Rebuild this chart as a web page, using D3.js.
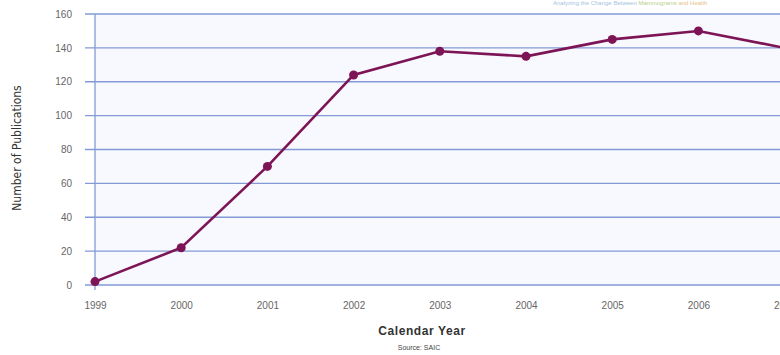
<!DOCTYPE html>
<html>
<head>
<meta charset="utf-8">
<script src="https://cdn.jsdelivr.net/npm/d3@7"></script>
<style>
	body { margin: 0; background: #fff; }
	svg { display: block; }
	.tick text { font-family: "Liberation Sans", Arial, sans-serif; font-size: 10px; fill: #666; }
	.grid line { stroke: #839ad6; stroke-width: 1.3; }
	.axisTitle { font-family: "DejaVu Sans Condensed", "Liberation Sans Narrow", Arial, sans-serif; font-stretch: condensed; font-size: 12px; fill: #333; }
	.xTitle { font-family: "Liberation Sans", Arial, sans-serif; font-size: 12px; font-weight: bold; fill: #333; letter-spacing: 0.6px; }
	.source { font-family: "Liberation Sans", Arial, sans-serif; font-size: 7px; fill: #444; }
</style>
</head>
<body>
<div id="chart"></div>
<script>
var years = ["1999","2000","2001","2002","2003","2004","2005","2006","2007"]
var publications = [2, 22, 70, 124, 138, 135, 145, 150, 140]
var yTicks = [0, 20, 40, 60, 80, 100, 120, 140, 160]

var WIDTH = 780, HEIGHT = 355
var LEFT = 95, TOP = 14, BOTTOM = 285

var svg = d3.select("#chart").append("svg")
	.attr("width", WIDTH)
	.attr("height", HEIGHT)

var x = d3.scalePoint()
	.domain(years)
	.range([LEFT, LEFT + 8 * 86.2])

var y = d3.scaleLinear()
	.domain([0, 160])
	.range([BOTTOM, TOP])

// faint plot background
svg.append("rect")
	.attr("x", LEFT)
	.attr("y", y(160))
	.attr("width", WIDTH - LEFT)
	.attr("height", y(0) - y(160))
	.attr("fill", "#f8f9fe")

// cut-off header text at the top
var header = svg.append("text")
	.attr("x", 553)
	.attr("y", 5)
	.style("font-family", "Liberation Sans, Arial, sans-serif")
	.style("font-size", "6px")
header.append("tspan").attr("fill", "#9fc3e0").text("Analyzing the Change Between ")
header.append("tspan").attr("fill", "#b8cf8a").text("Mammograms ")
header.append("tspan").attr("fill", "#e6c08a").text("and Health")

// horizontal grid
svg.append("g")
	.attr("class", "grid")
	.selectAll("line")
	.data(yTicks)
	.enter()
	.append("line")
	.attr("x1", LEFT - 10)
	.attr("x2", WIDTH)
	.attr("y1", function(d){ return y(d) })
	.attr("y2", function(d){ return y(d) })

// y axis line
svg.append("line")
	.attr("x1", LEFT)
	.attr("x2", LEFT)
	.attr("y1", y(160))
	.attr("y2", y(0) + 5)
	.attr("stroke", "#839ad6")
	.attr("stroke-width", 1.3)

var yAxis = svg.append("g")
	.attr("transform", "translate(" + (LEFT - 10) + ",0)")
	.call(d3.axisLeft(y).tickValues(yTicks).tickSize(0).tickPadding(13))
yAxis.select(".domain").remove()

var xAxis = svg.append("g")
	.attr("transform", "translate(0," + (BOTTOM + 4) + ")")
	.call(d3.axisBottom(x).tickSize(0).tickPadding(13))
xAxis.select(".domain").remove()

svg.append("text")
	.attr("class", "axisTitle")
	.attr("text-anchor", "middle")
	.attr("transform", "translate(21," + 148 + ") rotate(-90)")
	.text("Number of Publications")

svg.append("text")
	.attr("class", "xTitle")
	.attr("text-anchor", "middle")
	.attr("x", 422)
	.attr("y", 335)
	.text("Calendar Year")

svg.append("text")
	.attr("class", "source")
	.attr("text-anchor", "middle")
	.attr("x", 419)
	.attr("y", 350)
	.text("Source: SAIC")

var line = d3.line()
	.x(function(d, i){ return x(years[i]) })
	.y(function(d){ return y(d) })

svg.append("path")
	.datum(publications)
	.attr("d", line)
	.attr("fill", "none")
	.attr("stroke", "#7d1456")
	.attr("stroke-width", 2.6)

svg.selectAll(".dot")
	.data(publications)
	.enter()
	.append("circle")
	.attr("class", "dot")
	.attr("cx", function(d, i){ return x(years[i]) })
	.attr("cy", function(d){ return y(d) })
	.attr("r", 4.5)
	.attr("fill", "#7d1456")
</script>
</body>
</html>
